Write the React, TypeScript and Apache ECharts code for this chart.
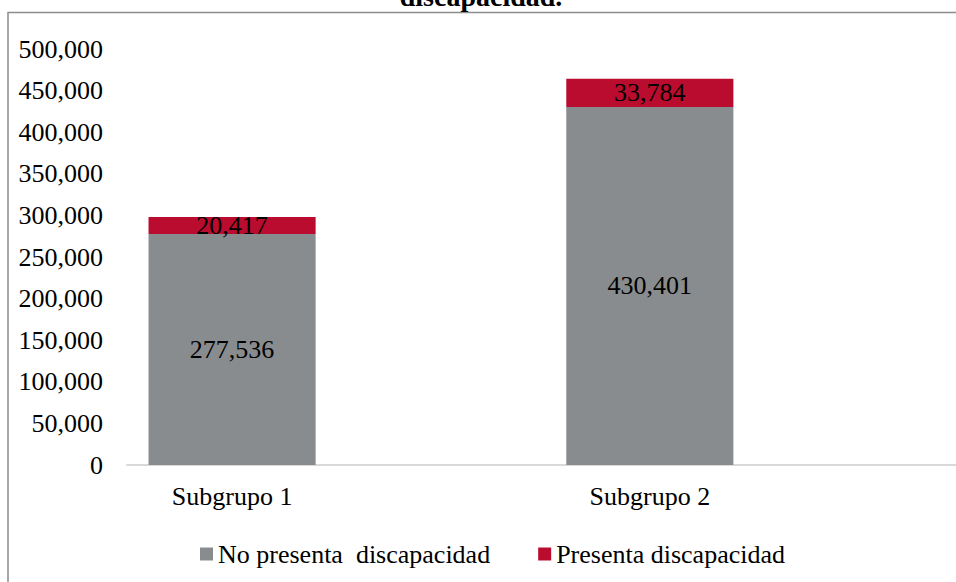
import React, { useEffect, useRef } from "react";
import * as echarts from "echarts";

const categories = ["Subgrupo 1", "Subgrupo 2"];
const noPresenta = [277536, 430401];
const presenta = [20417, 33784];
const seriesNames = ["No presenta  discapacidad", "Presenta discapacidad"];
const titleText = "discapacidad.";
const yMax = 500000;
const yInterval = 50000;

const FONT = "'Liberation Serif', 'Times New Roman', serif";
const fmt = (v: number) => Number(v).toLocaleString("en-US");

export default function App() {
  const ref = useRef<HTMLDivElement>(null);
  useEffect(() => {
    if (!ref.current) return;
    const chart = echarts.init(ref.current, undefined, { renderer: "svg" });
    const top = 49;
    const bottom = 117;
    chart.setOption({
      animation: false,
      backgroundColor: "#ffffff",
      textStyle: { fontFamily: FONT },
      graphic: [
        {
          type: "polyline",
          shape: { points: [[8, 582], [8, 12.5], [956, 12.5]] },
          style: { fill: "none", stroke: "#8c8c8c", lineWidth: 1.5 },
          z: -10,
          silent: true,
        },
        {
          type: "text",
          x: 481,
          y: -3.5,
          style: {
            text: titleText,
            font: `bold 28px ${FONT}`,
            fill: "#000",
            align: "center",
            verticalAlign: "middle",
          },
        },
      ],
      grid: [
        { left: 127, right: 0, top, bottom },
        { left: 23.2, width: 835.5, top, bottom },
      ],
      legend: {
        left: 195,
        top: 536,
        itemWidth: 13,
        itemHeight: 13,
        itemGap: 48,
        icon: "rect",
        textStyle: { fontFamily: FONT, fontSize: 26, color: "#000", lineHeight: 26 },
        data: seriesNames,
      },
      xAxis: [
        {
          type: "category",
          gridIndex: 0,
          data: categories,
          axisLine: { show: true, lineStyle: { color: "#d9d9d9", width: 2 } },
          axisTick: { show: false },
          axisLabel: { show: false },
          splitLine: { show: false },
        },
        {
          type: "category",
          gridIndex: 1,
          data: categories,
          axisLine: { show: false },
          axisTick: { show: false },
          axisLabel: {
            margin: 18,
            fontFamily: FONT,
            fontSize: 26,
            color: "#000",
          },
        },
      ],
      yAxis: [
        {
          type: "value",
          gridIndex: 0,
          min: 0,
          max: yMax,
          interval: yInterval,
          axisLine: { show: false },
          axisTick: { show: false },
          splitLine: { show: false },
          axisLabel: {
            margin: 24,
            fontFamily: FONT,
            fontSize: 26,
            color: "#000",
            formatter: (v: number) => fmt(v),
          },
        },
        {
          type: "value",
          gridIndex: 1,
          min: 0,
          max: yMax,
          interval: yInterval,
          show: false,
          splitLine: { show: false },
        },
      ],
      series: [
        {
          name: seriesNames[0],
          type: "bar",
          xAxisIndex: 1,
          yAxisIndex: 1,
          stack: "total",
          barWidth: "40%",
          data: noPresenta,
          itemStyle: { color: "#898c8e" },
          label: {
            show: true,
            position: "inside",
            fontFamily: FONT,
            fontSize: 26,
            color: "#000",
            formatter: (p: any) => fmt(p.value),
          },
        },
        {
          name: seriesNames[1],
          type: "bar",
          xAxisIndex: 1,
          yAxisIndex: 1,
          stack: "total",
          barWidth: "40%",
          data: presenta,
          itemStyle: { color: "#ba0c2f" },
          label: {
            show: true,
            position: "inside",
            fontFamily: FONT,
            fontSize: 26,
            color: "#000",
            formatter: (p: any) => fmt(p.value),
          },
        },
      ],
    });
    return () => chart.dispose();
  }, []);
  return (
    <div
      ref={ref}
      style={{ position: "absolute", left: 0, top: 0, width: 956, height: 582 }}
    />
  );
}
